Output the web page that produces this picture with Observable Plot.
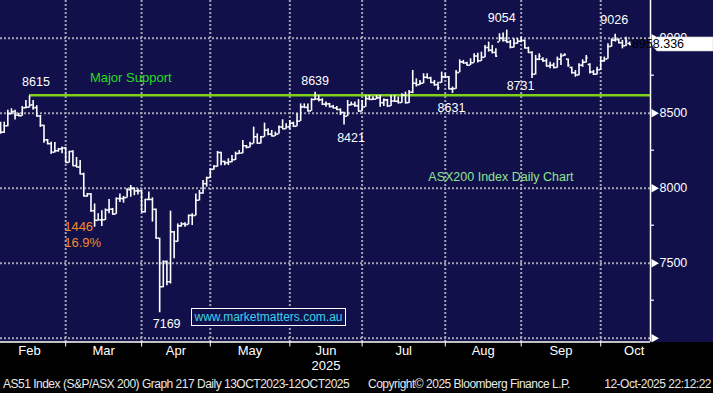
<!DOCTYPE html>
<html><head><meta charset="utf-8">
<script src="https://cdn.jsdelivr.net/npm/d3@7"></script>
<script src="https://cdn.jsdelivr.net/npm/@observablehq/plot@0.6"></script>
<style>
html,body{margin:0;padding:0;background:#000;}
#wrap{position:relative;width:713px;height:393px;background:#000;overflow:hidden;font-family:"Liberation Sans",Arial,sans-serif;}
#bg{position:absolute;left:0;top:0;width:713px;height:342px;background:#11104a;}
#chart{position:absolute;left:0;top:0;}
.foot{position:absolute;top:377px;font-size:12px;line-height:15px;color:#e8e8e8;white-space:nowrap;letter-spacing:-0.5px;}
#site{position:absolute;left:191px;top:308px;width:153px;height:16px;border:1.5px solid #fff;background:#11104a;color:#3cd3ea;font-size:12px;line-height:16px;text-align:center;}
</style></head><body>
<div id="wrap"><div id="bg"></div><div id="chart"></div>
<div id="site">www.marketmatters.com.au</div>
<div class="foot" style="left:3px">AS51 Index (S&amp;P/ASX 200) Graph 217 Daily 13OCT2023-12OCT2025</div>
<div class="foot" style="left:368px">Copyright© 2025 Bloomberg Finance L.P.</div>
<div class="foot" style="right:2px">12-Oct-2025 22:12:22</div>
</div>
<script>
// ---- data (ASX 200 daily OHLC, 3 Feb 2025 – 10 Oct 2025) ----
const holidays = ["2025-04-18","2025-04-21","2025-04-25","2025-06-09"];
const open = [8450,8379,8374,8416,8497,8511,8487,8483,8536,8540,8555,8537,8481,8419,8322,8297,8240,8250,8262,8268,
8172,8245,8150,8141,8095,7948,7962,7850,7786,7789,7790,7854,7860,7828,7931,7931,7937,7990,7999,7982,7982,
7843,7925,7925,7859,7667,7343,7511,7376,7709,7646,7749,7762,7758,7819,7818,7920,7968,8030,8070,
8126,8146,8238,8178,8170,8176,8190,8231,8234,8283,8273,8297,8343,8300,8343,8387,8360,8348,8361,8408,8396,8409,
8434,8413,8447,8542,8539,8515,8591,8595,8590,8560,8562,8545,8535,8525,8505,8480,8555,8559,8550,8514,
8542,8597,8592,8594,8603,8570,8589,8548,8581,8580,8571,8620,8570,8640,8700,8690,8700,8740,8735,8705,8690,8705,8742,
8742,8662,8664,8771,8842,8835,8820,8836,8881,8850,8873,8938,8920,8905,8975,9000,8985,8975,8940,8966,8980,
8985,8935,8905,8760,8860,8860,8850,8815,8820,8805,8860,8885,8860,8805,8770,8755,8820,8840,8825,8775,8760,8790,
8849,8862,8945,8987,8990,8970,8950,8965];
const high = [8460,8440,8440,8520,8530,8520,8500,8545,8585,8615,8585,8550,8485,8420,8325,8307,8305,8265,8275,8272,
8245,8250,8205,8185,8100,7965,7965,7895,7830,7850,7862,7925,7865,7935,7962,7945,7996,8018,8002,7995,7985,
7925,7974,7936,7862,7667,7514,7514,7847,7712,7762,7770,7770,7820,7830,7962,7985,8051,8074,8129,
8150,8245,8240,8180,8196,8218,8240,8251,8318,8285,8307,8407,8362,8345,8434,8396,8385,8374,8415,8456,8430,8452,
8440,8496,8562,8562,8562,8596,8639,8618,8596,8574,8565,8552,8545,8529,8507,8585,8574,8574,8590,8585,
8618,8618,8610,8618,8618,8595,8592,8618,8618,8607,8629,8640,8651,8785,8729,8718,8763,8763,8740,8718,8707,8774,8763,
8745,8674,8785,8856,8852,8840,8863,8896,8900,8907,8952,8974,8952,8930,9029,9034,9054,8985,8996,8996,9007,
8988,8940,8910,8885,8896,8869,8862,8840,8834,8874,8896,8896,8862,8807,8785,8830,8856,8885,8829,8785,8807,8874,
8874,8963,8996,9026,8996,8985,9007,8974];
const low = [8330,8360,8365,8410,8490,8455,8478,8480,8530,8535,8520,8478,8405,8300,8290,8225,8235,8240,8230,8170,
8168,8150,8138,8093,7945,7940,7840,7740,7783,7745,7785,7830,7820,7825,7905,7900,7935,7940,7950,7955,7840,
7835,7920,7774,7663,7169,7336,7350,7362,7529,7640,7740,7740,7755,7751,7815,7915,7960,8007,8065,
8120,8140,8150,8150,8151,8170,8185,8228,8230,8262,8270,8295,8295,8295,8340,8350,8345,8345,8360,8395,8393,8390,
8405,8410,8445,8535,8510,8513,8585,8575,8551,8540,8535,8530,8518,8485,8421,8478,8550,8540,8510,8510,
8540,8588,8585,8590,8540,8545,8540,8545,8575,8562,8567,8562,8565,8630,8674,8685,8696,8730,8700,8680,8651,8700,8730,
8660,8631,8660,8770,8828,8818,8818,8835,8834,8845,8870,8907,8896,8874,8974,8974,8967,8929,8935,8960,8970,
8929,8900,8731,8755,8850,8840,8807,8796,8796,8800,8818,8880,8807,8762,8740,8750,8805,8835,8762,8751,8755,8785,
8840,8860,8940,8974,8963,8929,8945,8950];
const close = [8379,8374,8416,8497,8511,8487,8483,8536,8540,8555,8537,8481,8419,8322,8297,8240,8250,8262,8268,8172,
8245,8150,8141,8095,7948,7962,7850,7786,7789,7790,7854,7860,7828,7931,7931,7937,7990,7999,7982,7982,7843,
7925,7925,7859,7667,7343,7511,7376,7709,7646,7749,7762,7758,7819,7818,7920,7968,8030,8070,8126,
8146,8238,8178,8170,8176,8190,8231,8234,8283,8273,8297,8343,8300,8343,8387,8360,8348,8361,8408,8396,8409,8434,
8413,8447,8542,8539,8515,8591,8595,8590,8560,8562,8545,8535,8525,8505,8480,8555,8559,8550,8514,8542,
8597,8592,8594,8603,8570,8589,8548,8581,8580,8571,8620,8570,8640,8700,8690,8700,8740,8735,8705,8690,8670,8742,8742,
8662,8664,8771,8842,8835,8820,8836,8881,8850,8873,8938,8920,8905,8880,9000,8985,8975,8940,8966,8980,8985,
8935,8905,8760,8860,8880,8850,8815,8820,8805,8860,8880,8890,8820,8770,8755,8820,8840,8870,8775,8760,8790,8849,
8862,8945,8987,8990,8970,8950,8980,8958.336];
const yTicks = [7000, 7500, 8000, 8500, 9000];
const yLabels = [7500, 8000, 8500, 9000];
const yMinor = [7250, 7750, 8250, 8750];
const monthNames = ["Feb","Mar","Apr","May","Jun","Jul","Aug","Sep","Oct"];
const supportLevel = 8620;
const lastPrice = 8958.336;

// ---- trading calendar ----
const fmt = d3.utcFormat("%Y-%m-%d");
const calendar = d3.utcDays(new Date("2025-02-03"), new Date("2025-11-01"))
  .filter(d => d.getUTCDay() % 6 !== 0 && !holidays.includes(fmt(d)));
const bars = open.map((o, i) => ({i, date: calendar[i], open: o, high: high[i], low: low[i], close: close[i]}));
const idx = s => calendar.findIndex(d => fmt(d) === s);

const xDomain = [0.97, 180.77];
const yDomain = [6974.7, 9251.3];

// month boundaries (gridline sits on last bar of previous month)
const firsts = [];
calendar.forEach((d, i) => { if (i === 0 || d.getUTCMonth() !== calendar[i-1].getUTCMonth()) firsts.push(i); });
const bounds = firsts.map(f => f - 1).concat([calendar.length - 1]);
const gridX = bounds.slice(1, -1);
const centers = bounds.slice(0, -1).map((b, k) => Math.min((b + bounds[k+1]) / 2, xDomain[1] - 4.5));

const grid = {stroke: "#a3a3b3", strokeDasharray: "2,2", strokeWidth: 2};
const font = "Liberation Sans, Arial, sans-serif";
const lbl = (i, key, dx, dy) => Plot.text([bars[i]], {x: "i", y: key, text: d => String(d[key]), dx, dy, fill: "white", fontSize: 12.5});

const chart = Plot.plot({
  width: 713, height: 393,
  marginTop: 0, marginLeft: 0, marginRight: 63, marginBottom: 51.5,
  style: {background: "transparent", color: "white", fontFamily: font, fontSize: "12.5px", overflow: "visible"},
  x: {type: "linear", domain: xDomain, axis: null, label: null},
  y: {domain: yDomain, axis: null, label: null},
  marks: [
    Plot.ruleY(yTicks, {...grid}),
    Plot.ruleX(gridX, {...grid}),
    Plot.ruleY([supportLevel], {x1: idx("2025-02-14"), x2: xDomain[1], stroke: "#7fd11b", strokeWidth: 2.5}),
    Plot.ruleX(bars, {x: "i", y1: "low", y2: "high", stroke: "white", strokeWidth: 1.6, clip: true}),
    Plot.ruleY(bars, {y: "open", x1: d => d.i - 0.5, x2: "i", stroke: "white", strokeWidth: 1.6, clip: true}),
    Plot.ruleY(bars, {y: "close", x1: "i", x2: d => d.i + 0.5, stroke: "white", strokeWidth: 1.6, clip: true}),
    // axes
    Plot.ruleX([xDomain[1]], {stroke: "white", strokeWidth: 1.5}),
    Plot.ruleY([yDomain[0]], {stroke: "white", strokeWidth: 1.5}),
    Plot.axisY(yLabels, {anchor: "right", label: null, tickSize: 0, tickPadding: 9, tickFormat: "d", fill: "white", fontSize: 12.5}),
    Plot.dot(yTicks, {x: xDomain[1], y: d => d, symbol: "triangle", rotate: 90, r: 3.2, fill: "white", dx: 3.5}),
    Plot.axisX(gridX, {anchor: "bottom", label: null, tickSize: 5, tickFormat: () => "", stroke: "white"}),
    Plot.axisX(centers, {anchor: "bottom", label: null, tickSize: 0, tickPadding: 4, tickFormat: (d, k) => monthNames[k], fill: "white", fontSize: 13}),
    Plot.text(["2025"], {x: centers[4], frameAnchor: "bottom", dy: 28, fill: "white", fontSize: 13}),
    // annotations
    lbl(idx("2025-02-14"), "high", 6.5, -13.5),
    lbl(idx("2025-06-11"), "high", 0, -11),
    lbl(idx("2025-06-23"), "low", 7, 12.5),
    lbl(idx("2025-08-04"), "low", -1, 14),
    lbl(idx("2025-08-25"), "high", -5, -12.5),
    lbl(idx("2025-09-03"), "low", -11.5, 7),
    lbl(idx("2025-10-06"), "high", -1, -14),
    lbl(idx("2025-04-07"), "low", 7, 11.5),
    Plot.text(["Major Support"], {x: idx("2025-03-26"), y: supportLevel, dy: -17, fill: "#22dc22", fontSize: 13}),
    Plot.text(["ASX200 Index Daily Chart"], {x: 139.4, y: 8078, fill: "#8fe48f", fontSize: 12.5}),
    Plot.text(["1446"], {x: bounds[1], y: 7745, textAnchor: "start", dx: -1.5, fill: "#f0892b", fontSize: 13}),
    Plot.text(["16.9%"], {x: bounds[1], y: 7638, textAnchor: "start", dx: -1.5, fill: "#f0892b", fontSize: 13})
  ]
});
document.getElementById("chart").append(chart);

// minor ticks on the right axis, drawn from the y scale
const svg = d3.select(chart);
const sx = chart.scale("x"), sy = chart.scale("y");
const xr = sx.apply(xDomain[1]);
svg.selectAll("line.minor").data(yMinor).join("line").attr("class", "minor")
  .attr("x1", xr).attr("x2", xr + 4).attr("y1", d => sy.apply(d)).attr("y2", d => sy.apply(d))
  .attr("stroke", "white").attr("stroke-width", 1.2);

// last-price tag on the right axis
const yc = sy.apply(lastPrice);
svg.append("path")
  .attr("d", `M${xr+1},${yc} L${xr+7},${yc-7} L713,${yc-7} L713,${yc+7} L${xr+7},${yc+7} Z`)
  .attr("fill", "white").attr("stroke", "#cfcfcf").attr("stroke-width", 0.6);
svg.append("text").attr("x", xr + 8).attr("y", yc).attr("dy", "0.35em")
  .attr("fill", "black").attr("font-size", 12.5).attr("font-family", font)
  .text(d3.format(".3f")(lastPrice));
</script>
</body></html>
